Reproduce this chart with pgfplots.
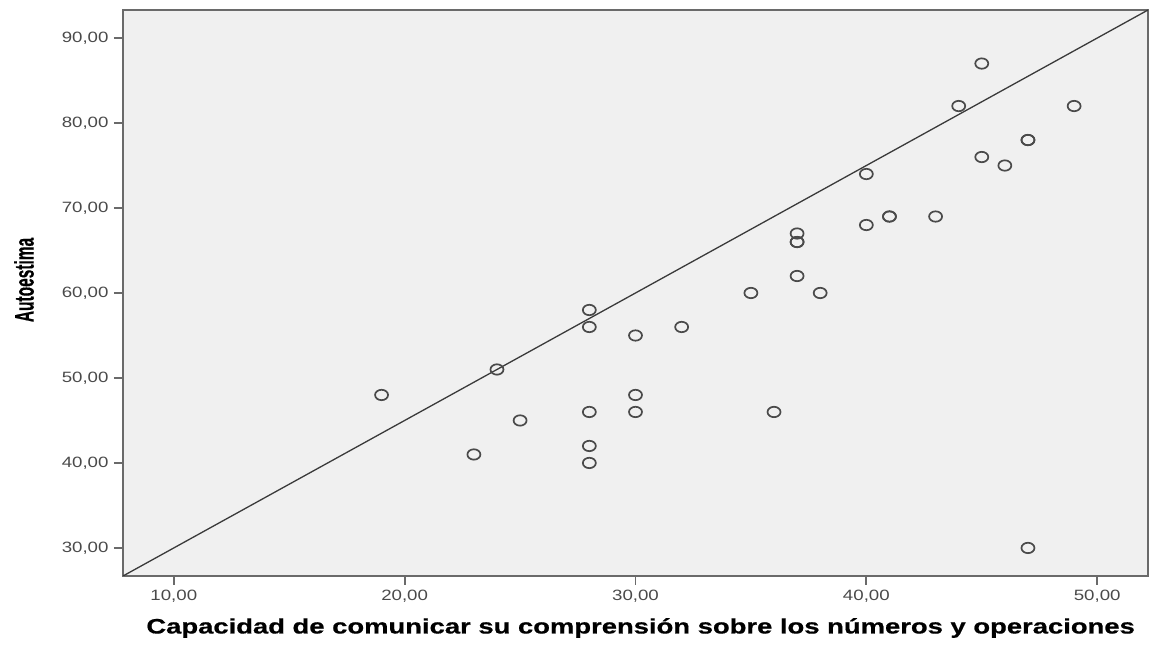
\documentclass[border=0pt]{standalone}
\usepackage{fontspec}
\setmainfont{Liberation Sans}
\newfontfamily\heavyfont[FakeBold=0.6]{Liberation Sans Bold}
\usepackage{pgfplots}
\pgfplotsset{compat=1.18}
\definecolor{bgfill}{HTML}{F0F0F0}
\definecolor{frame}{HTML}{6A6A6A}
\definecolor{mk}{HTML}{4A4A4A}
\definecolor{ln}{HTML}{3A3A3A}
\definecolor{tk}{HTML}{4A4A4A}
\begin{document}
\begin{tikzpicture}
\begin{axis}[
  at={(0,0)}, anchor=south west,
  scale only axis,
  width=512.5bp, height=283bp,
  xmin=7.8, xmax=52.2, ymin=26.7, ymax=93.3,
  axis background/.style={fill=bgfill},
  axis line style={draw=frame, line width=1.1bp},
  xtick={10,20,30,40,50},
  ytick={30,40,50,60,70,80,90},
  tick align=outside,
  tick pos=left,
  major tick length=4.5bp,
  tick style={draw=frame, line width=0.9bp},
  /pgf/number format/.cd, fixed, fixed zerofill, precision=2, use comma, assume math mode=true,
  /pgfplots/.cd,
  ticklabel style={font=\fontsize{7.5}{8}\selectfont, text=tk, xscale=1.25, inner sep=1bp},
  xticklabel style={yshift=-1.5bp},
  yticklabel style={xshift=-1bp},
  xlabel={Capacidad de comunicar su comprensión sobre los números y operaciones},
  xlabel style={at={(axis description cs:0.505,0)}, anchor=center, yshift=-26bp, font=\heavyfont\fontsize{10.5}{12}\selectfont, xscale=1.31},
  ylabel={Autoestima},
  ylabel style={at={(axis description cs:-0.0966,0.523)}, anchor=center, font=\heavyfont\fontsize{13.5}{14}\selectfont, xscale=0.575},
  clip=true,
]
\addplot[ln, line width=0.65bp] coordinates {(7.8,26.7) (52.2,93.3)};
\addplot[only marks, mark=o, mark size=2.6bp, mark options={draw=mk, line width=0.85bp, xscale=1.25}] coordinates {
(19,48) (23,41) (24,51) (25,45)
(28,58) (28,56) (28,46) (28,42) (28,40)
(30,55) (30,48) (30,46) (32,56)
(35,60) (36,46)
(37,67) (37,66) (37,66) (37,62) (38,60)
(40,74) (40,68) (41,69) (41,69) (43,69)
(44,82) (45,87) (45,76) (46,75)
(47,78) (47,78) (47,30) (49,82)
};
\end{axis}
\path[use as bounding box] (-61.5bp,-34bp) rectangle (513.5bp,288bp);
\end{tikzpicture}
\end{document}
